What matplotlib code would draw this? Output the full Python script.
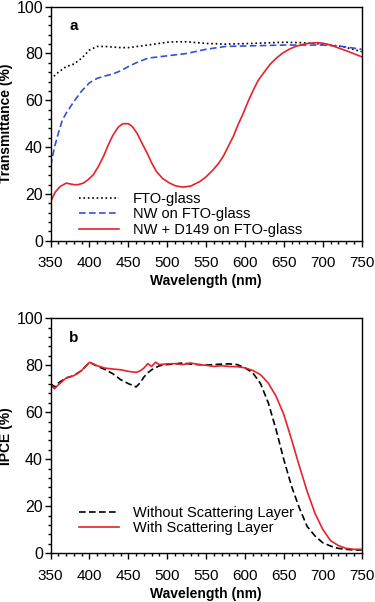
import numpy as np
import matplotlib
matplotlib.use("Agg")
import matplotlib.pyplot as plt
from matplotlib.ticker import MultipleLocator

plt.rcParams['font.family'] = ['Liberation Sans', 'DejaVu Sans']
plt.rcParams['font.size'] = 10.5

# panel a: transmittance
wl_fto = [350, 360, 370, 380, 390, 400, 410, 420, 440, 450, 475, 500, 510, 525, 550,
          575, 600, 625, 650, 675, 700, 725, 750]
t_fto = [69, 72, 74.4, 75.5, 78, 81.5, 83, 83, 82.5, 82.5, 83.6, 84.8, 85, 85, 84.3,
         84, 84.2, 84.5, 84.8, 84.6, 84, 83, 80.8]

wl_nw = [350, 355, 360, 365, 370, 375, 380, 390, 400, 410, 420, 430, 440, 450, 460, 475,
         500, 525, 550, 575, 600, 650, 700, 725, 750]
t_nw = [32, 40, 46, 51.5, 54.5, 57, 59.5, 64, 67.5, 69.4, 70.4, 71.2, 72.6, 74.4, 76, 78,
        79, 80, 81.8, 83, 83.2, 83.6, 83.6, 83, 81.8]

wl_dye = [350, 356, 362, 370, 376, 381, 386, 392, 398, 405, 411, 418, 424, 430, 437,
          443, 450, 455, 461, 467, 474, 480, 486, 494, 503, 511, 520, 530, 542, 550,
          559, 566, 572, 578, 585, 591, 598, 604, 611, 617, 624, 632, 641, 649, 658,
          666, 675, 683, 692, 700, 710, 720, 730, 740, 750]
t_dye = [16.7, 20.8, 23.1, 24.6, 24.2, 23.9, 24.0, 24.6, 26.0, 28.2, 31.5, 36.0, 40.8, 45.0, 48.5,
         50.0, 50.0, 48.8, 46.0, 42.0, 37.5, 33.2, 29.6, 26.6, 24.6, 23.4, 22.9, 23.3, 25.3, 27.3,
         30.3, 33.0, 36.0, 40.0, 44.6, 49.5, 54.6, 59.5, 64.6, 68.5, 71.7, 75.3, 78.2, 80.3, 82.0,
         83.1, 83.9, 84.4, 84.6, 84.4, 83.6, 82.4, 81.2, 79.9, 78.6]

# panel b: IPCE
wl_b = [350, 355, 360, 370, 380, 390, 400, 410, 420, 430, 440, 450, 460, 465, 470,
        475, 480, 485, 490, 500, 510, 520, 530, 540, 550, 560, 570, 580, 590, 600,
        610, 620, 630, 640, 650, 660, 670, 680, 690, 700, 710, 720, 730, 740, 750]
ipce_without = [72.2, 70.8, 72.5, 74.6, 75.6, 77.8, 81.3, 79.6, 78.2, 76.4, 73.9, 72.2, 70.8, 72.5, 75,
                76.8, 78.1, 79, 79.8, 80.3, 80.6, 81, 80.5, 80.3, 80.1, 80.3, 80.5, 80.6, 80.3, 78.9,
                76.8, 72.2, 64, 52.6, 39.8, 28.4, 19.2, 11.4, 7.4, 4.5, 3.1, 2.1, 1.7, 1.4, 1.4]
ipce_with = [71.7, 70, 71.7, 74.6, 75.6, 77.8, 81.3, 79.8, 78.8, 78.4, 78.1, 77.4, 77, 77.6, 78.8,
             80.7, 79.5, 81.3, 80.3, 80.6, 80.7, 80.3, 81, 80.3, 80, 79.5, 79.8, 79.5, 79.4, 78.9,
             77.8, 76, 72.4, 66.8, 59, 48.3, 37, 26.3, 17, 10.2, 5.4, 3.3, 2.1, 1.7, 1.7]

red = '#e8212a'
blue = '#3550d8'

fig = plt.figure(figsize=(3.75, 6.02), dpi=100)
ax1 = fig.add_axes([0.135, 0.6002, 0.8293, 0.3887])
ax2 = fig.add_axes([0.135, 0.0809, 0.8293, 0.3904])

ax1.plot(wl_fto, t_fto, ':', color='black', lw=1.2, label='FTO-glass')
ax1.plot(wl_nw, t_nw, '--', color=blue, lw=1.2, dashes=(4, 2), label='NW on FTO-glass')
ax1.plot(wl_dye, t_dye, '-', color=red, lw=1.2, label='NW + D149 on FTO-glass')
ax1.set_ylabel('Transmittance (%)', fontweight='bold', fontsize=10)
ax1.text(0.06, 0.9, 'a', transform=ax1.transAxes, fontweight='bold', fontsize=11)
ax1.legend(loc='lower left', bbox_to_anchor=(0.05, -0.04), frameon=False,
           handlelength=2.75, handletextpad=0.9, labelspacing=0.1, fontsize=10.5)

ax2.plot(wl_b, ipce_without, '--', color='black', lw=1.2, dashes=(4, 2),
         label='Without Scattering Layer')
ax2.plot(wl_b, ipce_with, '-', color=red, lw=1.2, label='With Scattering Layer')
ax2.set_ylabel('IPCE (%)', fontweight='bold', fontsize=10)
ax2.text(0.06, 0.9, 'b', transform=ax2.transAxes, fontweight='bold', fontsize=11)
ax2.legend(loc='lower left', bbox_to_anchor=(0.05, 0.02), frameon=False,
           handlelength=2.75, handletextpad=0.9, labelspacing=0.1, fontsize=10.5)

for ax in (ax1, ax2):
    ax.set_xlim(350, 750)
    ax.set_ylim(0, 100)
    ax.xaxis.set_major_locator(MultipleLocator(50))
    ax.xaxis.set_minor_locator(MultipleLocator(10))
    ax.yaxis.set_major_locator(MultipleLocator(20))
    ax.yaxis.set_minor_locator(MultipleLocator(4))
    ax.tick_params(which='both', direction='out', top=False, right=False)
    ax.tick_params(which='major', length=4, width=1)
    ax.tick_params(which='minor', length=2.5, width=1)
    ax.tick_params(axis='x', labelsize=11, pad=7)
    ax.tick_params(axis='y', labelsize=11.5, pad=1.5)
    ax.set_xlabel('Wavelength (nm)', fontweight='bold', fontsize=10, labelpad=3)
    ax.yaxis.set_label_coords(-0.122, 0.5)
    for s in ax.spines.values():
        s.set_linewidth(1)

fig.savefig('out.png', dpi=100)
